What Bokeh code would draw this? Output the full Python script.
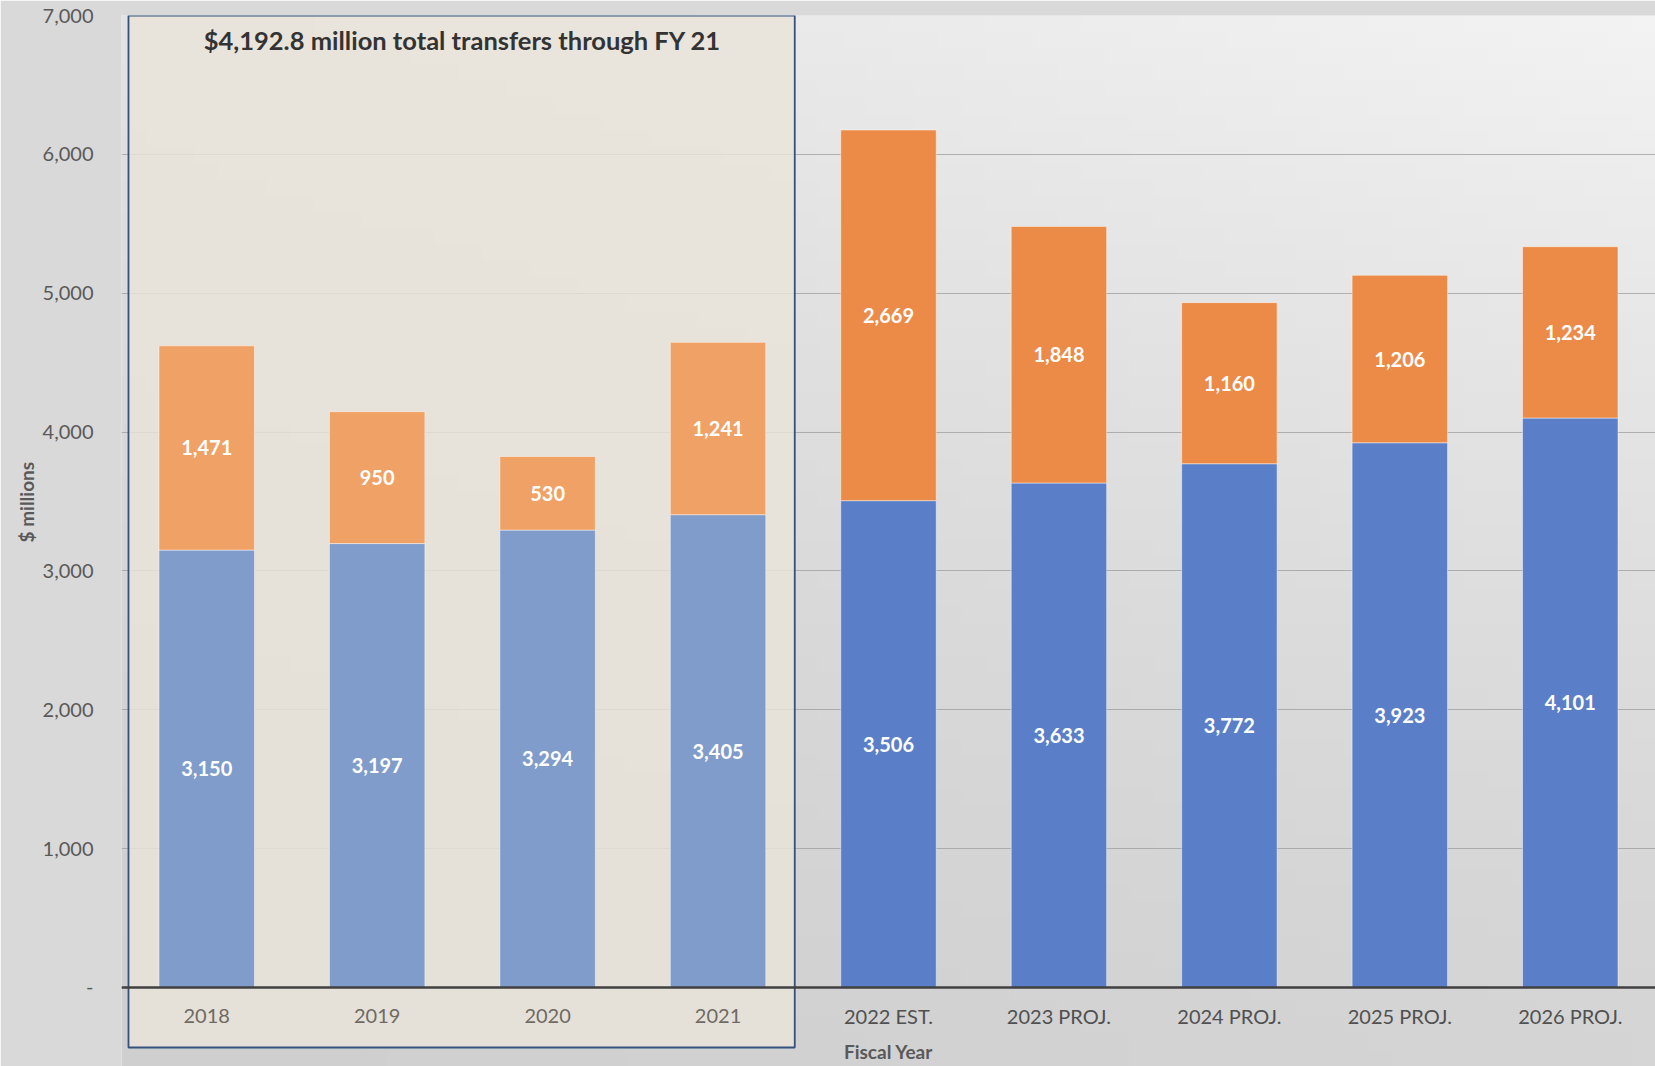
import numpy as np
from bokeh.plotting import figure
from bokeh.models import (ColumnDataSource, Range1d, FixedTicker, NumeralTickFormatter,
                          Span, BoxAnnotation, Title)
from bokeh.core.properties import value
from bokeh.embed import file_html
from bokeh.resources import INLINE

# ---------------- data ----------------
years = ["2018", "2019", "2020", "2021", "2022 EST.", "2023 PROJ.", "2024 PROJ.", "2025 PROJ.", "2026 PROJ."]
base_values = [3150, 3197, 3294, 3405, 3506, 3633, 3772, 3923, 4101]
transfer_values = [1471, 950, 530, 1241, 2669, 1848, 1160, 1206, 1234]
is_actual = [True, True, True, True, False, False, False, False, False]
y_ticks = [0, 1000, 2000, 3000, 4000, 5000, 6000, 7000]
box_title = "$4,192.8 million total transfers through FY 21"
x_title = "Fiscal Year"
y_title = "$ millions"

# ---------------- styles ----------------
FONT = "Lato"
BLUE, ORANGE = "#5a7fc8", "#ec8a47"
BLUE_A, ORANGE_A = "#7f9cca", "#efa166"
Y_MIN, Y_MAX = -569, 7000

idx = list(range(len(years)))
src = ColumnDataSource(dict(
    x=idx,
    base=base_values,
    top=[b + t for b, t in zip(base_values, transfer_values)],
    base_mid=[b / 2 for b in base_values],
    tr_mid=[b + t / 2 for b, t in zip(base_values, transfer_values)],
    base_lbl=[f"{v:,}" for v in base_values],
    tr_lbl=[f"{v:,}" for v in transfer_values],
    base_col=[BLUE_A if a else BLUE for a in is_actual],
    tr_col=[ORANGE_A if a else ORANGE for a in is_actual],
    year=years,
    year_col=["#6e6a64" if a else "#505050" for a in is_actual],
))

p = figure(width=1655, height=1066,
           x_range=Range1d(-0.5, len(years) - 0.5), y_range=Range1d(Y_MIN, Y_MAX),
           output_backend="svg", toolbar_location=None,
           min_border_left=121, min_border_top=15, min_border_bottom=0, min_border_right=0)
p.outline_line_color = None
p.border_fill_color = "#d9d9d9"
p.background_fill_color = "#dddddd"

# background gradient (style only)
H, W = 64, 64
u = np.linspace(0, 1, W)[None, :]
v = np.linspace(0, 1, H)[:, None]
lum = 207 + 6 * u + (20 + 10 * u) * v ** 1.4
lum = np.clip(lum, 0, 255).astype(np.uint8)
img = np.empty((H, W), dtype=np.uint32)
view = img.view(dtype=np.uint8).reshape((H, W, 4))
view[:, :, 0] = lum
view[:, :, 1] = lum
view[:, :, 2] = lum
view[:, :, 3] = 255
p.image_rgba(image=[img], x=-0.5, y=Y_MIN, dw=len(years), dh=Y_MAX - Y_MIN, level="image")

# axes
p.xaxis.visible = False
p.xgrid.visible = False
yax = p.yaxis[0]
yax.ticker = FixedTicker(ticks=y_ticks)
yax.formatter = NumeralTickFormatter(format="0,0")
yax.major_label_overrides = {0: "-"}
yax.axis_line_color = None
yax.major_tick_line_color = None
yax.minor_tick_line_color = None
yax.major_label_standoff = 22
yax.major_label_text_font = FONT
yax.major_label_text_font_size = "20px"
yax.major_label_text_color = "#595959"
p.ygrid.ticker = FixedTicker(ticks=y_ticks[1:])
p.ygrid.grid_line_color = "#9c9c9c"
p.ygrid.grid_line_alpha = 0.75

# y-axis title, centred on the 0..7000 span
p.add_layout(Title(text=y_title, align="left", offset=524, text_font=FONT,
                   text_font_style="bold", text_font_size="19px",
                   text_color="#595959", standoff=4), "left")

# actual-years box
n_act = sum(is_actual)
box = BoxAnnotation(left=-0.459, right=n_act - 1 + 0.45, top=Y_MAX, bottom=-432,
                    fill_color="#eae4d9", fill_alpha=0.82,
                    line_color="#34507c", line_alpha=1.0, line_width=1.8, level="underlay")
p.add_layout(box)

# bars
W_BAR = 0.56
p.vbar(x="x", bottom=0, top="base", width=W_BAR, source=src,
       fill_color="base_col", line_color="white", line_alpha=0.45, line_width=1)
p.vbar(x="x", bottom="base", top="top", width=W_BAR, source=src,
       fill_color="tr_col", line_color="white", line_alpha=0.45, line_width=1)

# zero axis line
p.add_layout(Span(location=0, dimension="width", line_color="#404040", line_width=2.5))

# value labels
lbl_kw = dict(text_font=value(FONT), text_font_style="bold", text_font_size="20px",
              text_color="white", text_align="center", text_baseline="middle")
p.text(x="x", y="base_mid", text="base_lbl", source=src, **lbl_kw)
p.text(x="x", y="tr_mid", text="tr_lbl", source=src, **lbl_kw)

# category labels
p.text(x="x", y=-202, text="year", source=src, text_font=value(FONT),
       text_font_size="20px", text_color="year_col",
       text_align="center", text_baseline="middle")

# titles
p.text(x=[(n_act - 1) / 2], y=[6827], text=[box_title], text_font=value(FONT),
       text_font_style="bold", text_font_size="25.5px", text_color="#333333",
       text_align="center", text_baseline="middle")
p.text(x=[(len(years) - 1) / 2], y=[-461], text=[x_title], text_font=value(FONT),
       text_font_style="bold", text_font_size="19px", text_color="#595959",
       text_align="center", text_baseline="middle")

open("out.html", "w").write(file_html(p, INLINE))
